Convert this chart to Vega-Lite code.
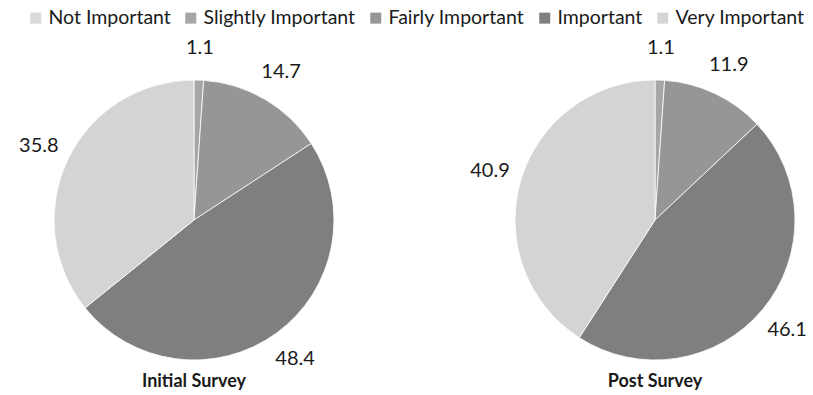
{
  "$schema": "https://vega.github.io/schema/vega-lite/v6.json",
  "padding": {"left": 19, "top": 8, "right": 0, "bottom": 0},
  "data": {
    "values": [
      {"survey": "Initial Survey", "importance": "Not Important", "rank": 1, "pct": 0},
      {"survey": "Initial Survey", "importance": "Slightly Important", "rank": 2, "pct": 1.1},
      {"survey": "Initial Survey", "importance": "Fairly Important", "rank": 3, "pct": 14.7},
      {"survey": "Initial Survey", "importance": "Important", "rank": 4, "pct": 48.4},
      {"survey": "Initial Survey", "importance": "Very Important", "rank": 5, "pct": 35.8},
      {"survey": "Post Survey", "importance": "Not Important", "rank": 1, "pct": 0},
      {"survey": "Post Survey", "importance": "Slightly Important", "rank": 2, "pct": 1.1},
      {"survey": "Post Survey", "importance": "Fairly Important", "rank": 3, "pct": 11.9},
      {"survey": "Post Survey", "importance": "Important", "rank": 4, "pct": 46.1},
      {"survey": "Post Survey", "importance": "Very Important", "rank": 5, "pct": 40.9}
    ]
  },
  "facet": {
    "column": {
      "field": "survey",
      "type": "nominal",
      "sort": ["Initial Survey", "Post Survey"],
      "title": null,
      "header": {
        "labelOrient": "bottom",
        "labelFont": "Lato",
        "labelFontSize": 18,
        "labelFontWeight": "bold",
        "labelColor": "#1a1a1a",
        "labelPadding": 3
      }
    }
  },
  "spacing": 161,
  "bounds": "flush",
  "spec": {
    "width": 300,
    "height": 300,
    "encoding": {
      "theta": {"field": "pct", "type": "quantitative", "stack": true},
      "order": {"field": "rank", "type": "quantitative"}
    },
    "layer": [
      {
        "mark": {"type": "arc", "outerRadius": 140, "stroke": "#ffffff", "strokeWidth": 0.8},
        "encoding": {
          "color": {
            "field": "importance",
            "type": "nominal",
            "scale": {
              "domain": ["Not Important", "Slightly Important", "Fairly Important", "Important", "Very Important"],
              "range": ["#d9d9d9", "#a6a6a6", "#969696", "#7f7f7f", "#d4d4d4"]
            },
            "legend": {
              "title": null,
              "orient": "none",
              "legendX": -18,
              "legendY": -62,
              "direction": "horizontal",
              "symbolType": "square",
              "symbolSize": 121,
              "symbolStrokeWidth": 0,
              "labelFont": "Lato",
              "labelFontSize": 19.5,
              "labelColor": "#1a1a1a",
              "labelOffset": 3,
              "columnPadding": 10
            }
          }
        }
      },
      {
        "transform": [{"filter": "datum.pct > 0"}],
        "mark": {"type": "text", "radius": 172, "font": "Lato", "fontSize": 20, "color": "#1a1a1a"},
        "encoding": {
          "text": {"field": "pct", "type": "quantitative", "format": ".1f"}
        }
      }
    ]
  },
  "config": {
    "view": {"stroke": null}
  }
}
